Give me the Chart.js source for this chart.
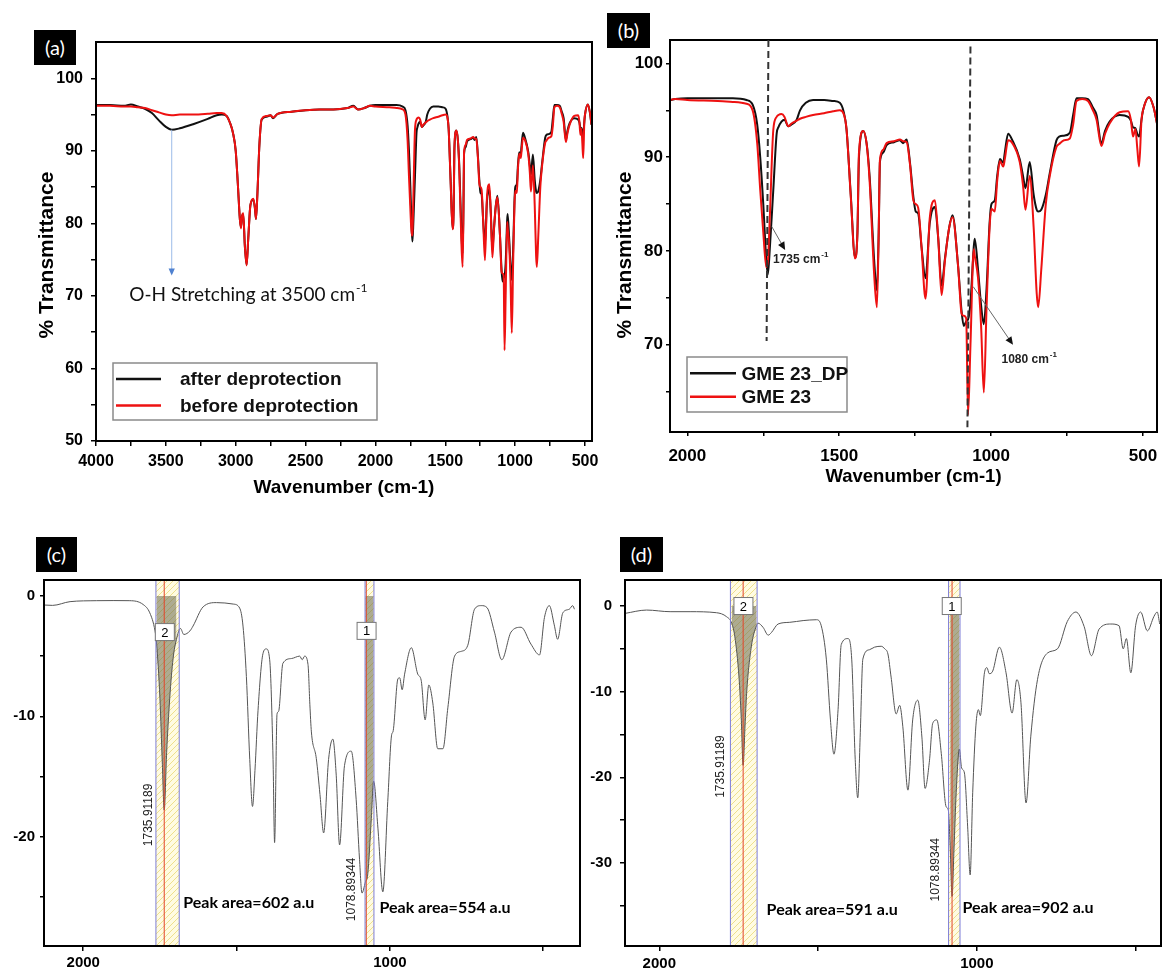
<!DOCTYPE html>
<html>
<head>
<meta charset="utf-8">
<title>FTIR spectra before / after deprotection</title>
<script src="https://cdn.jsdelivr.net/npm/chart.js@4.4.1/dist/chart.umd.min.js"></script>
<style>
  body { margin: 0; background: #fff; }
  #fig { position: relative; width: 1162px; height: 971px; overflow: hidden; }
  #fig canvas { position: absolute; }
  .tag { position: absolute; background: #000; color: #fff; font: 20px Lato, sans-serif; text-align: center; height: 35px; line-height: 35px; }
</style>
</head>
<body>
<div id="fig">
  <canvas id="chartA" width="600" height="510" style="left:0;top:0"></canvas>
  <canvas id="chartB" width="562" height="510" style="left:600px;top:0"></canvas>
  <canvas id="chartC" width="590" height="451" style="left:0;top:520px"></canvas>
  <canvas id="chartD" width="572" height="451" style="left:590px;top:520px"></canvas>
  <div class="tag" style="left:34px;top:30px;width:42px">(a)</div>
  <div class="tag" style="left:607px;top:13px;width:43px">(b)</div>
  <div class="tag" style="left:36px;top:537px;width:41px">(c)</div>
  <div class="tag" style="left:620px;top:537px;width:43px">(d)</div>
</div>
<script>
// --- spectra for (a) and (b): same two samples, (b) is a zoom on the fingerprint region
const wavenumbers = [
  4000, 3900, 3800, 3750, 3700, 3650, 3600, 3550, 3500, 3458, 3400, 3300, 3200, 3136, 3100,
  3065, 3040, 3020, 3000, 2985, 2970, 2962, 2955, 2946, 2935, 2922, 2910, 2895, 2874, 2862,
  2855, 2845, 2830, 2814, 2780, 2750, 2733, 2700, 2600, 2500, 2400, 2300, 2200, 2158, 2125,
  2080, 2040, 2000, 1900, 1850, 1805, 1785, 1770, 1760, 1750, 1740, 1735, 1728, 1717, 1706,
  1700, 1690, 1680, 1668, 1657, 1640, 1629, 1610, 1586, 1550, 1520, 1498, 1485, 1476, 1462,
  1448, 1440, 1435, 1421, 1410, 1400, 1385, 1376, 1370, 1366, 1355, 1344, 1320, 1300, 1290,
  1278, 1267, 1256, 1248, 1240, 1229, 1216, 1202, 1185, 1174, 1163, 1152, 1138, 1127, 1109,
  1097, 1090, 1082, 1076, 1068, 1057, 1054, 1043, 1033, 1024, 1015, 1005, 999, 988, 980,
  971, 960, 955, 944, 930, 906, 895, 887, 873, 860, 850, 845, 835, 820, 807,
  785, 776, 760, 741, 730, 719, 700, 681, 665, 653, 637, 625, 610, 577, 549,
  540, 533, 525, 519, 513, 505, 500, 480, 465, 454
];
// black: after deprotection (GME 23_DP)
const afterDeprotection = [
  96.3, 96.3, 96.2, 96.4, 96.1, 95.8, 95.2, 94.2, 93.3, 92.9, 93.1, 93.7, 94.4, 94.9, 95.0,
  94.8, 93.8, 92.5, 90.0, 85.5, 80.5, 79.5, 81.0, 81.2, 77.0, 74.3, 78.0, 82.5, 83.3, 82.0,
  80.6, 84.0, 91.0, 94.3, 94.7, 94.9, 94.5, 95.1, 95.4, 95.6, 95.7, 95.7, 95.9, 96.2, 95.7,
  95.9, 96.2, 96.3, 96.3, 96.3, 96.1, 95.6, 93.5, 90.0, 85.0, 79.0, 77.5, 80.5, 86.5, 92.5,
  93.2, 93.8, 94.0, 93.3, 93.5, 94.0, 95.0, 95.8, 96.1, 96.1, 96.0, 95.8, 94.8, 93.0, 86.0,
  79.3, 82.0, 90.0, 92.8, 91.5, 88.0, 79.0, 75.8, 82.0, 89.5, 90.5, 91.3, 91.6, 91.8, 91.5,
  91.9, 89.4, 85.8, 84.2, 84.0, 80.4, 77.1, 83.0, 84.7, 81.3, 76.3, 79.2, 82.5, 83.8, 78.5,
  73.5, 72.0, 72.5, 72.7, 74.5, 80.5, 81.3, 78.0, 74.2, 72.2, 76.0, 83.0, 85.0, 85.4, 88.0,
  89.8, 89.4, 90.5, 92.5, 91.8, 89.8, 88.0, 86.7, 89.5, 86.0, 84.4, 84.2, 84.4, 86.0, 88.3,
  91.8, 92.2, 92.3, 92.6, 94.5, 96.3, 96.3, 96.2, 95.3, 94.5, 91.5, 92.8, 93.8, 94.5, 94.3,
  93.9, 93.2, 93.1, 92.5, 92.2, 94.0, 95.0, 96.4, 95.3, 93.6
];
// red: before deprotection (GME 23)
const beforeDeprotection = [
  96.2, 96.2, 96.1, 96.1, 96.0, 95.9, 95.6, 95.3, 95.0, 94.9, 95.0, 95.0, 95.1, 95.2, 95.2,
  94.8, 93.8, 92.5, 90.0, 85.5, 80.5, 79.3, 81.0, 81.4, 77.0, 74.2, 78.0, 82.5, 83.4, 82.0,
  80.6, 84.0, 91.0, 94.4, 94.8, 94.9, 94.6, 95.1, 95.4, 95.6, 95.7, 95.7, 95.9, 96.1, 95.7,
  95.9, 96.2, 96.1, 96.0, 95.9, 95.7, 95.0, 91.5, 86.5, 82.0, 78.3, 78.8, 84.0, 92.9, 94.3,
  94.5, 94.6, 94.3, 93.3, 93.6, 93.9, 94.1, 94.3, 94.5, 94.7, 94.9, 95.0, 94.6, 93.0, 85.8,
  79.2, 82.0, 90.5, 92.8, 91.5, 87.5, 77.5, 74.0, 82.0, 89.7, 90.8, 91.5, 91.7, 91.9, 91.7,
  91.6, 89.2, 85.4, 85.0, 84.6, 80.4, 74.9, 83.5, 85.4, 81.3, 75.3, 79.0, 82.5, 83.6, 78.5,
  73.3, 73.1, 72.8, 62.5, 70.0, 80.2, 79.5, 77.1, 72.0, 64.9, 74.0, 82.5, 84.5, 84.2, 87.5,
  89.6, 89.0, 89.8, 91.8, 91.5, 89.5, 87.0, 84.4, 88.0, 82.5, 75.5, 74.0, 78.0, 85.0, 88.0,
  91.1, 91.4, 91.8, 92.0, 93.5, 96.0, 96.2, 96.0, 95.0, 94.0, 91.2, 92.5, 93.6, 94.8, 94.9,
  94.0, 92.2, 93.0, 91.0, 89.0, 94.0, 95.0, 96.4, 95.3, 93.6
];

// --- (c) peak integration on GME 23_DP
const cWavenumbers = [
  2128, 2100, 2043, 1956, 1900, 1848, 1805, 1783, 1766, 1761, 1750, 1742, 1736, 1728, 1718,
  1707, 1696, 1683, 1672, 1652, 1642, 1609, 1565, 1511, 1490, 1479, 1468, 1457, 1448, 1440,
  1430, 1414, 1403, 1392, 1381, 1376, 1368, 1363, 1349, 1321, 1294, 1286, 1278, 1267, 1261,
  1256, 1240, 1228, 1216, 1200, 1186, 1175, 1164, 1148, 1126, 1110, 1099, 1091, 1080, 1072,
  1061, 1053, 1039, 1023, 1007, 994, 990, 974, 968, 960, 952, 930, 909, 898, 885,
  873, 860, 844, 827, 811, 789, 767, 746, 724, 702, 683, 659, 635, 605, 572,
  540, 512, 496, 480, 464, 453, 436, 415, 404, 398
];
const cSignal = [
  -0.75, -0.78, -0.47, -0.39, -0.38, -0.39, -0.7, -1.4, -2.9, -3.9, -8.5, -14.0, -17.8, -13.0, -8.5,
  -5.2, -3.6, -2.7, -3.2, -2.9, -2.5, -0.9, -0.55, -0.67, -1.0, -2.5, -6.7, -13.6, -17.5, -14.5,
  -9.5, -4.8, -4.4, -5.3, -13.6, -20.5, -9.8, -9.6, -5.6, -5.2, -5.0, -5.3, -5.0, -5.7, -9.0,
  -11.3, -13.5, -16.5, -19.7, -13.6, -11.9, -14.9, -20.7, -14.1, -12.9, -16.9, -21.9, -24.7, -23.8, -23.1,
  -18.7, -15.4, -19.3, -24.6, -17.1, -11.5, -11.3, -6.9, -6.8, -7.8, -6.5, -4.3, -6.5, -7.0, -10.3,
  -7.4, -8.9, -12.7, -12.7, -9.3, -5.0, -4.6, -4.1, -1.1, -0.8, -0.97, -3.0, -5.3, -3.0, -2.6,
  -4.0, -4.9, -1.8, -0.8, -2.4, -3.6, -1.4, -1.1, -0.8, -1.1
];

// --- (d) peak integration on GME 23
const dWavenumbers = [
  2108, 2040, 1966, 1903, 1820, 1788, 1772, 1762, 1749, 1742, 1736, 1730, 1725, 1710, 1694,
  1689, 1673, 1657, 1647, 1626, 1589, 1547, 1505, 1490, 1474, 1461, 1450, 1437, 1427, 1406,
  1394, 1383, 1375, 1367, 1359, 1338, 1322, 1301, 1290, 1280, 1270, 1254, 1243, 1233, 1217,
  1202, 1186, 1173, 1163, 1149, 1139, 1126, 1112, 1097, 1090, 1084, 1078, 1072, 1065, 1055,
  1048, 1039, 1029, 1021, 1013, 1003, 995, 989, 976, 968, 961, 950, 929, 908, 889,
  874, 861, 845, 830, 809, 778, 746, 715, 688, 662, 639, 615, 578, 552, 539,
  529, 515, 500, 484, 463, 442, 432, 424
];
const dSignal = [
  -0.86, -0.47, -0.66, -0.66, -0.78, -1.25, -2.0, -3.6, -8.3, -13.0, -18.6, -14.0, -10.2, -4.7, -2.3,
  -2.0, -2.5, -3.4, -3.1, -2.1, -1.9, -1.7, -1.6, -2.3, -6.2, -13.3, -17.3, -12.1, -4.5, -3.8,
  -6.2, -17.9, -22.4, -14.8, -6.2, -5.1, -4.8, -4.7, -5.0, -5.6, -8.3, -12.6, -11.6, -14.1, -21.5,
  -13.3, -11.0, -15.3, -21.3, -18.0, -13.7, -13.3, -17.2, -23.4, -23.8, -28.0, -33.9, -28.5, -21.8, -16.7,
  -18.9, -19.5, -25.7, -31.4, -21.8, -14.0, -12.1, -12.8, -7.8, -7.2, -7.9, -7.6, -4.8, -7.8, -12.5,
  -8.6, -11.3, -23.0, -15.2, -8.6, -5.5, -5.0, -1.8, -0.7, -2.4, -5.8, -2.7, -2.1, -2.3, -5.0,
  -3.8, -7.8, -2.3, -0.7, -2.9, -1.2, -0.7, -2.1
];

// tick values (labelled ones and unlabelled minor ones)
const aXLabels = [4000, 3500, 3000, 2500, 2000, 1500, 1000, 500];
const aXMinor = [3750, 3250, 2750, 2250, 1750, 1250, 750];
const aYLabels = [50, 60, 70, 80, 90, 100];
const aYMinor = [55, 65, 75, 85, 95];
const bXLabels = [2000, 1500, 1000, 500];
const bXMinor = [1750, 1250, 750];
const bYLabels = [70, 80, 90, 100];
const bYMinor = [65, 75, 85, 95];
const cdXLabels = [2000, 1000];
const cdXMinor = [1500, 500];
const cYLabels = [0, -10, -20];
const cYMinor = [-5, -15, -25];
const dYLabels = [0, -10, -20, -30];
const dYMinor = [-5, -15, -25, -35];

const seriesNames = ['after deprotection', 'before deprotection'];
const sampleNames = ['GME 23_DP', 'GME 23'];

const cBands = [
  { from: 1763, to: 1687, peak: 1735.91189, text: '1735.91189', box: '2', boxAt: [1734, -3.0], textAt: [1788, -18.2], area: 'Peak area=602 a.u', areaAt: [1674, -25.5] },
  { from: 1081, to: 1052, peak: 1077, text: '1078.89344', box: '1', boxAt: [1076, -2.9], textAt: [1126, -24.4], area: 'Peak area=554 a.u', areaAt: [1034, -25.9] }
];
const dBands = [
  { from: 1776, to: 1692, peak: 1735.91189, text: '1735.91189', box: '2', boxAt: [1735, 0], textAt: [1806, -18.75], area: 'Peak area=591 a.u', areaAt: [1662, -35.5] },
  { from: 1089, to: 1053, peak: 1078, text: '1078.89344', box: '1', boxAt: [1079, 0], textAt: [1130, -30.8], area: 'Peak area=902 a.u', areaAt: [1045, -35.2] }
];

const ARIAL = '"Liberation Sans", Arial, sans-serif';
const CALIBRI = 'Lato, "Open Sans", sans-serif';
const BLACK = '#111111';
const RED = '#ee1111';

function toPoints(xs, ys) {
  return xs.map((x, i) => ({ x: x, y: ys[i] }));
}

function makeAxis(cfg) {
  return {
    type: 'linear',
    min: cfg.min,
    max: cfg.max,
    reverse: !!cfg.reverse,
    border: { display: false },
    grid: { drawOnChartArea: false, drawTicks: true, tickLength: cfg.tickLength, color: '#000', lineWidth: 1.5 },
    ticks: {
      autoSkip: false, maxRotation: 0, minRotation: 0, padding: cfg.pad, color: '#000',
      font: { family: ARIAL, size: cfg.fontSize, weight: 'bold' },
      callback: v => cfg.labels.includes(v) ? String(v) : ''
    },
    title: cfg.title
      ? { display: true, text: cfg.title, color: '#000', font: { family: ARIAL, size: cfg.titleSize, weight: 'bold' }, padding: { top: 0, bottom: cfg.titlePad } }
      : { display: false },
    afterBuildTicks: s => {
      s.ticks = cfg.labels.concat(cfg.minor).sort((a, b) => a - b).map(v => ({ value: v }));
    },
    afterFit: s => {
      if (s.isHorizontal()) s.height = cfg.size; else s.width = cfg.size;
      s.paddingLeft = 0; s.paddingRight = 0; s.paddingTop = 0; s.paddingBottom = 0;
    }
  };
}

const framePlugin = {
  id: 'frame',
  afterDatasetsDraw(chart) {
    const { ctx, chartArea: a } = chart;
    ctx.save();
    ctx.strokeStyle = '#000';
    ctx.lineWidth = 2;
    ctx.strokeRect(a.left, a.top, a.right - a.left, a.bottom - a.top);
    ctx.restore();
  }
};

function drawArrow(ctx, x1, y1, x2, y2, lineColor, headColor, head) {
  const ang = Math.atan2(y2 - y1, x2 - x1);
  ctx.strokeStyle = lineColor;
  ctx.lineWidth = 1;
  ctx.beginPath();
  ctx.moveTo(x1, y1);
  ctx.lineTo(x2 - Math.cos(ang) * head * 0.8, y2 - Math.sin(ang) * head * 0.8);
  ctx.stroke();
  ctx.fillStyle = headColor;
  ctx.beginPath();
  ctx.moveTo(x2, y2);
  ctx.lineTo(x2 - head * Math.cos(ang) + head * 0.45 * Math.sin(ang), y2 - head * Math.sin(ang) - head * 0.45 * Math.cos(ang));
  ctx.lineTo(x2 - head * Math.cos(ang) - head * 0.45 * Math.sin(ang), y2 - head * Math.sin(ang) + head * 0.45 * Math.cos(ang));
  ctx.closePath();
  ctx.fill();
}

function superText(ctx, text, sup, x, y, font, supFont, rise) {
  ctx.textAlign = 'left';
  ctx.textBaseline = 'middle';
  ctx.font = font;
  ctx.fillText(text, x, y);
  const w = ctx.measureText(text).width;
  ctx.font = supFont;
  ctx.fillText(sup, x + w + 1, y - rise);
}

function yTitle(ctx, text, cx, cy, size) {
  ctx.save();
  ctx.translate(cx, cy);
  ctx.rotate(-Math.PI / 2);
  ctx.fillStyle = '#000';
  ctx.font = 'bold ' + size + 'px ' + ARIAL;
  ctx.textAlign = 'center';
  ctx.textBaseline = 'middle';
  ctx.fillText(text, 0, 0);
  ctx.restore();
}

function drawLegend(ctx, a, lg, names) {
  const left = a.left + lg.x, top = a.top + lg.y;
  ctx.fillStyle = '#fff';
  ctx.fillRect(left, top, lg.w, lg.h);
  ctx.strokeStyle = '#8a8a8a';
  ctx.lineWidth = 1.5;
  ctx.strokeRect(left, top, lg.w, lg.h);
  [BLACK, RED].forEach((col, i) => {
    const y = top + lg.rows[i];
    ctx.strokeStyle = col;
    ctx.lineWidth = 2.5;
    ctx.beginPath();
    ctx.moveTo(left + lg.line[0], y);
    ctx.lineTo(left + lg.line[1], y);
    ctx.stroke();
    ctx.fillStyle = '#111';
    ctx.font = 'bold 19px ' + ARIAL;
    ctx.textAlign = 'left';
    ctx.textBaseline = 'middle';
    ctx.fillText(names[i], left + lg.text, y + 1);
  });
}

function spectrumDatasets() {
  return [
    { data: toPoints(wavenumbers, beforeDeprotection), borderColor: RED, borderWidth: 2, order: 0 },
    { data: toPoints(wavenumbers, afterDeprotection), borderColor: BLACK, borderWidth: 2, order: 1 }
  ].map(d => Object.assign(d, { pointRadius: 0, fill: false, cubicInterpolationMode: 'monotone' }));
}

function baseOptions(padding, xAxis, yAxis) {
  return {
    responsive: false,
    animation: false,
    devicePixelRatio: 1,
    layout: { padding: padding },
    plugins: { legend: { display: false }, tooltip: { enabled: false } },
    scales: { x: xAxis, y: yAxis }
  };
}

// ---------- (a) ----------
const panelA = {
  id: 'panelA',
  afterDraw(chart) {
    const { ctx, chartArea: a, scales: { x, y } } = chart;
    ctx.save();
    yTitle(ctx, '% Transmittance', 47, 255, 21);
    // O-H arrow
    const ax = x.getPixelForValue(3458);
    drawArrow(ctx, ax, y.getPixelForValue(92.9), ax, y.getPixelForValue(72.8), '#9bbbe8', '#4f81d0', 7);
    ctx.fillStyle = '#111';
    superText(ctx, 'O-H Stretching at 3500 cm', '-1', x.getPixelForValue(3762), y.getPixelForValue(70.1),
      '19px ' + CALIBRI, '12px ' + CALIBRI, 7);
    drawLegend(ctx, a, { x: 17, y: 321, w: 264, h: 57, line: [3, 48], text: 67, rows: [16, 42.5] }, seriesNames);
    ctx.restore();
  }
};

new Chart(document.getElementById('chartA'), {
  type: 'line',
  data: { datasets: spectrumDatasets() },
  options: baseOptions({ left: 0, top: 42, right: 8, bottom: 0 },
    makeAxis({ min: 450, max: 4000, reverse: true, labels: aXLabels, minor: aXMinor, tickLength: 5, pad: 6, fontSize: 16, size: 69,
      title: 'Wavenumber (cm-1)', titleSize: 19, titlePad: 10.5 }),
    makeAxis({ min: 50, max: 105, labels: aYLabels, minor: aYMinor, tickLength: 5, pad: 8, fontSize: 16, size: 96 })),
  plugins: [framePlugin, panelA]
});

// ---------- (b) ----------
const panelB = {
  id: 'panelB',
  afterDraw(chart) {
    const { ctx, chartArea: a, scales: { x, y } } = chart;
    ctx.save();
    yTitle(ctx, '% Transmittance', 25, 255, 21);
    // dashed guides at the two assigned bands
    ctx.strokeStyle = '#333';
    ctx.lineWidth = 2;
    ctx.setLineDash([7, 4]);
    [[1733, 102.5, 1739, 70.4], [1068, 101.8, 1078, 61.2]].forEach(g => {
      ctx.beginPath();
      ctx.moveTo(x.getPixelForValue(g[0]), y.getPixelForValue(g[1]));
      ctx.lineTo(x.getPixelForValue(g[2]), y.getPixelForValue(g[3]));
      ctx.stroke();
    });
    ctx.setLineDash([]);
    drawArrow(ctx, x.getPixelForValue(1722), y.getPixelForValue(82.6), x.getPixelForValue(1678), y.getPixelForValue(80.1), '#666', '#111', 8);
    drawArrow(ctx, x.getPixelForValue(1059), y.getPixelForValue(76.2), x.getPixelForValue(928), y.getPixelForValue(70.0), '#666', '#111', 8);
    ctx.fillStyle = '#222';
    superText(ctx, '1735 cm', '-1', x.getPixelForValue(1718), y.getPixelForValue(79.05), 'bold 12px ' + ARIAL, 'bold 8px ' + ARIAL, 5);
    superText(ctx, '1080 cm', '-1', x.getPixelForValue(966), y.getPixelForValue(68.4), 'bold 12px ' + ARIAL, 'bold 8px ' + ARIAL, 5);
    drawLegend(ctx, a, { x: 17, y: 317, w: 160, h: 55, line: [3, 49], text: 54.5, rows: [16.3, 39.7] }, sampleNames);
    ctx.restore();
  }
};

new Chart(document.getElementById('chartB'), {
  type: 'line',
  data: { datasets: spectrumDatasets() },
  options: baseOptions({ left: 0, top: 40, right: 5, bottom: 0 },
    makeAxis({ min: 454, max: 2057, reverse: true, labels: bXLabels, minor: bXMinor, tickLength: 4, pad: 10, fontSize: 17, size: 78,
      title: 'Wavenumber (cm-1)', titleSize: 18.5, titlePad: 22 }),
    makeAxis({ min: 60.7, max: 102.5, labels: bYLabels, minor: bYMinor, tickLength: 4, pad: 3, fontSize: 17, size: 70 })),
  plugins: [framePlugin, panelB]
});

// ---------- (c) and (d): peak integration ----------
function hatchPattern(ctx) {
  const c = document.createElement('canvas');
  c.width = 6; c.height = 6;
  const g = c.getContext('2d');
  g.fillStyle = '#fffbe2';
  g.fillRect(0, 0, 6, 6);
  g.strokeStyle = '#eee08c';
  g.lineWidth = 1;
  g.beginPath();
  g.moveTo(0, 6); g.lineTo(6, 0);
  g.moveTo(-1, 1); g.lineTo(1, -1);
  g.moveTo(5, 7); g.lineTo(7, 5);
  g.stroke();
  return ctx.createPattern(c, 'repeat');
}

function vline(ctx, px, a, color) {
  ctx.strokeStyle = color;
  ctx.lineWidth = 1;
  ctx.beginPath();
  ctx.moveTo(px, a.top);
  ctx.lineTo(px, a.bottom);
  ctx.stroke();
}

function peakPlugin(bands) {
  return {
    id: 'peaks',
    beforeDatasetsDraw(chart) {
      const { ctx, chartArea: a, scales: { x } } = chart;
      ctx.save();
      ctx.fillStyle = hatchPattern(ctx);
      bands.forEach(b => {
        const x1 = x.getPixelForValue(b.from), x2 = x.getPixelForValue(b.to);
        ctx.fillRect(x1, a.top, x2 - x1, a.bottom - a.top);
      });
      ctx.restore();
    },
    afterDatasetsDraw(chart) {
      const { ctx, chartArea: a, scales: { x, y } } = chart;
      ctx.save();
      bands.forEach(b => {
        vline(ctx, x.getPixelForValue(b.peak), a, '#e2452a');
        vline(ctx, x.getPixelForValue(b.from), a, '#7d7dd8');
        vline(ctx, x.getPixelForValue(b.to), a, '#7d7dd8');
        const bx = x.getPixelForValue(b.boxAt[0]), by = y.getPixelForValue(b.boxAt[1]);
        ctx.fillStyle = '#fff';
        ctx.fillRect(bx - 9.5, by - 8.5, 19, 17);
        ctx.strokeStyle = '#777';
        ctx.lineWidth = 1;
        ctx.strokeRect(bx - 9.5, by - 8.5, 19, 17);
        ctx.fillStyle = '#000';
        ctx.font = '13px ' + ARIAL;
        ctx.textAlign = 'center';
        ctx.textBaseline = 'middle';
        ctx.fillText(b.box, bx, by + 1);
        ctx.save();
        ctx.translate(x.getPixelForValue(b.textAt[0]), y.getPixelForValue(b.textAt[1]));
        ctx.rotate(-Math.PI / 2);
        ctx.fillStyle = '#222';
        ctx.font = '12px ' + ARIAL;
        ctx.fillText(b.text, 0, 0);
        ctx.restore();
        ctx.fillStyle = '#000';
        ctx.font = 'bold 16px ' + CALIBRI;
        ctx.textAlign = 'left';
        ctx.fillText(b.area, x.getPixelForValue(b.areaAt[0]), y.getPixelForValue(b.areaAt[1]));
      });
      ctx.restore();
    }
  };
}

function peakDatasets(xs, ys, bands) {
  const sets = [{ data: toPoints(xs, ys), borderColor: '#555', borderWidth: 1, order: 0, fill: false }];
  bands.forEach(b => {
    const pts = toPoints(xs, ys).filter(p => p.x <= b.from && p.x >= b.to);
    sets.push({ data: pts, borderWidth: 0, borderColor: 'rgba(0,0,0,0)', backgroundColor: 'rgba(105,105,78,0.55)', fill: 'origin', order: 1 });
  });
  return sets.map(d => Object.assign(d, { pointRadius: 0, cubicInterpolationMode: 'monotone' }));
}

new Chart(document.getElementById('chartC'), {
  type: 'line',
  data: { datasets: peakDatasets(cWavenumbers, cSignal, cBands) },
  options: baseOptions({ left: 0, top: 60, right: 10, bottom: 0 },
    makeAxis({ min: 380, max: 2128, reverse: true, labels: cdXLabels, minor: cdXMinor, tickLength: 5, pad: 3, fontSize: 15, size: 25 }),
    makeAxis({ min: -29.1, max: 1.33, labels: cYLabels, minor: cYMinor, tickLength: 4, pad: 5, fontSize: 15, size: 44 })),
  plugins: [peakPlugin(cBands), framePlugin]
});

new Chart(document.getElementById('chartD'), {
  type: 'line',
  data: { datasets: peakDatasets(dWavenumbers, dSignal, dBands) },
  options: baseOptions({ left: 0, top: 60, right: 1, bottom: 0 },
    makeAxis({ min: 420, max: 2108, reverse: true, labels: cdXLabels, minor: cdXMinor, tickLength: 5, pad: 4, fontSize: 15, size: 25 }),
    makeAxis({ min: -39.7, max: 3.04, labels: dYLabels, minor: dYMinor, tickLength: 5, pad: 8, fontSize: 15, size: 35 })),
  plugins: [peakPlugin(dBands), framePlugin]
});
</script>
</body>
</html>
